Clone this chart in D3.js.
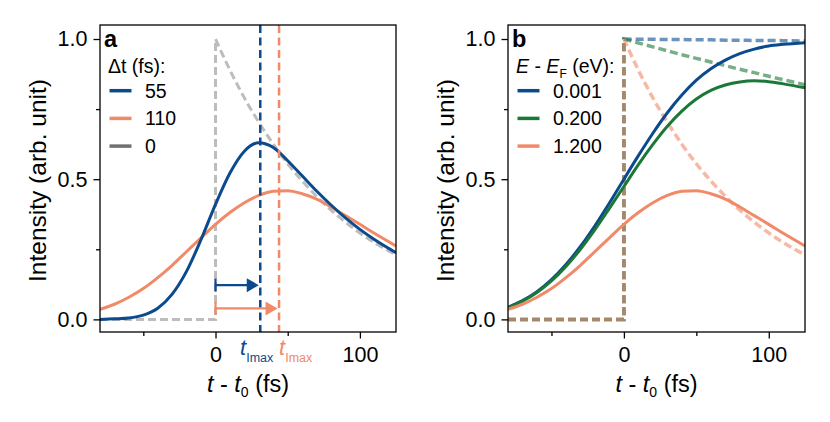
<!DOCTYPE html>
<html>
<head>
<meta charset="utf-8">
<script src="https://cdn.jsdelivr.net/npm/d3@7"></script>
<style>
body { margin: 0; background: #fff; }
text { font-family: "Liberation Sans", Arial, sans-serif; white-space: pre; }
</style>
</head>
<body>
<script>
// time grid (fs) shared by the broadened curves
const times = [-80, -70, -60, -50, -40, -30, -20, -10, 0, 10, 20, 30, 40, 50, 60, 70, 80, 90, 100, 110, 125]
// panel a, broadened intensity for two pulse widths
const blue55 = [0.000, 0.002, 0.005, 0.015, 0.040, 0.090, 0.172, 0.285, 0.410, 0.522, 0.600, 0.630, 0.613, 0.566, 0.512, 0.458, 0.408, 0.362, 0.321, 0.285, 0.238]
const orange110 = [0.036, 0.054, 0.079, 0.110, 0.149, 0.193, 0.242, 0.291, 0.339, 0.381, 0.416, 0.442, 0.457, 0.459, 0.448, 0.429, 0.401, 0.370, 0.339, 0.307, 0.262]
// unbroadened response: zero before t0, then decay
const stepTimes = [-80, 0]
const stepValues = [0, 0]
const decayTimes = [0, 10, 20, 30, 40, 50, 60, 70, 80, 90, 100, 110, 125]
const gray0 = [1.000, 0.889, 0.790, 0.703, 0.625, 0.555, 0.494, 0.439, 0.390, 0.347, 0.308, 0.274, 0.230]
// panel b, three energies
const blueB = [0.043, 0.067, 0.099, 0.142, 0.196, 0.260, 0.334, 0.415, 0.500, 0.584, 0.664, 0.737, 0.800, 0.853, 0.894, 0.925, 0.948, 0.964, 0.975, 0.981, 0.987]
const greenB = [0.042, 0.065, 0.096, 0.137, 0.189, 0.250, 0.320, 0.396, 0.474, 0.552, 0.624, 0.689, 0.743, 0.786, 0.817, 0.836, 0.847, 0.851, 0.848, 0.840, 0.826]
const orangeB = [0.036, 0.054, 0.079, 0.110, 0.149, 0.193, 0.242, 0.291, 0.339, 0.381, 0.416, 0.442, 0.457, 0.459, 0.448, 0.429, 0.401, 0.370, 0.339, 0.307, 0.262]
const blueDecay = [1.000, 0.999, 0.999, 0.998, 0.998, 0.997, 0.997, 0.996, 0.996, 0.995, 0.995, 0.994, 0.993]
const greenDecay = [1.000, 0.986, 0.972, 0.958, 0.944, 0.931, 0.918, 0.905, 0.892, 0.880, 0.867, 0.855, 0.837]
const orangeDecay = [1.000, 0.889, 0.790, 0.703, 0.625, 0.555, 0.494, 0.439, 0.390, 0.347, 0.308, 0.274, 0.230]
// t_Imax markers in panel a
const tmax = [31, 44]
const arrowLevels = [0.122, 0.039]
const tmaxLabelAt = [17, 44]

const legendA = ["55", "110", "0"]
const legendB = ["0.001", "0.200", "1.200"]
const xTicks = [0, 100]
const xMinor = [-50, 50]
const yTicks = [0, 0.5, 1]
const yMinor = [0.25, 0.75]

const blue = "#0c4a8e", orange = "#f08a68", green = "#1b7837", gray = "#bdbdbd"

const W = 830, H = 422
const plotTop = 25, plotBottom = 332
const svg = d3.select("body").append("svg").attr("width", W).attr("height", H)

const zip = (a, b) => a.map((v, i) => [v, b[i]])

function panel(left, right, letter) {
    const w = right - left, h = plotBottom - plotTop
    const g = svg.append("g").attr("transform", `translate(${left},${plotTop})`)
    const x = d3.scaleLinear().domain([-80, 125]).range([0, w])
    const y = d3.scaleLinear().domain([-0.045, 1.05]).range([h, 0])

    const id = "clip" + left
    g.append("clipPath").attr("id", id).append("rect").attr("width", w).attr("height", h)
    const plot = g.append("g").attr("clip-path", `url(#${id})`)

    const styleAxis = a => {
        a.select(".domain").remove()
        a.selectAll("line").attr("stroke-width", 1.3)
        a.selectAll("text").attr("font-size", 21.5).attr("font-family", '"Liberation Sans", Arial, sans-serif').attr("fill", "#000")
    }
    g.append("g").attr("transform", `translate(0,${h})`)
        .call(d3.axisBottom(x).tickValues(xTicks).tickSize(6.5).tickPadding(8).tickFormat(d3.format("d")))
        .call(styleAxis)
    g.append("g").attr("transform", `translate(0,${h})`)
        .call(d3.axisBottom(x).tickValues(xMinor).tickSize(4).tickFormat(""))
        .call(styleAxis)
    g.append("g")
        .call(d3.axisLeft(y).tickValues(yTicks).tickSize(6.5).tickPadding(6).tickFormat(d3.format(".1f")))
        .call(styleAxis)
    g.append("g")
        .call(d3.axisLeft(y).tickValues(yMinor).tickSize(4).tickFormat(""))
        .call(styleAxis)

    // y label
    svg.append("text")
        .attr("transform", `translate(${left - 63},${(plotTop + plotBottom) / 2 + 2}) rotate(-90)`)
        .attr("text-anchor", "middle").attr("dominant-baseline", "central")
        .attr("font-size", 24.5).text("Intensity (arb. unit)")

    // x label
    const xl = svg.append("text").attr("x", left + w / 2).attr("y", 392)
        .attr("text-anchor", "middle").attr("font-size", 23.5)
    xl.append("tspan").attr("font-style", "italic").text("t")
    xl.append("tspan").text(" - ")
    xl.append("tspan").attr("font-style", "italic").text("t")
    xl.append("tspan").attr("font-size", 14).attr("dy", 5).text("0")
    xl.append("tspan").attr("dy", -5).text(" (fs)")

    return { g, plot, x, y, w, h, letter }
}

function lines(p) {
    const smooth = d3.line().x(d => p.x(d[0])).y(d => p.y(d[1])).curve(d3.curveMonotoneX)
    const straight = d3.line().x(d => p.x(d[0])).y(d => p.y(d[1]))
    const withStep = vals => straight(zip(stepTimes, stepValues)) + smooth(zip(decayTimes, vals)).replace(/^M/, "L")
    return { smooth, withStep }
}

function frame(p) {
    p.g.append("rect").attr("width", p.w).attr("height", p.h)
        .attr("fill", "none").attr("stroke", "#000").attr("stroke-width", 1.3)
    p.g.append("text").attr("x", 4).attr("y", 22)
        .attr("font-size", 23.5).attr("font-weight", "bold").text(p.letter)
}

function legend(p, items, colors, title) {
    const lg = p.g.append("g")
    title(lg.append("text").attr("x", 8).attr("y", 48).attr("font-size", 19.5))
    items.forEach((name, i) => {
        const cy = 65.7 + i * 27.7
        lg.append("line").attr("x1", 9.5).attr("x2", 31.5).attr("y1", cy).attr("y2", cy)
            .attr("stroke", colors[i]).attr("stroke-width", 3.5)
        lg.append("text").attr("x", 45).attr("y", cy + 7).attr("font-size", 19.5).text(name)
    })
}

// ---------- panel a ----------
const pa = panel(100, 396, "a")
const la = lines(pa)
pa.plot.append("path").attr("d", la.withStep(gray0))
    .attr("fill", "none").attr("stroke", gray).attr("stroke-width", 3).attr("stroke-dasharray", "8,4")
pa.plot.append("path").attr("d", la.smooth(zip(times, orange110)))
    .attr("fill", "none").attr("stroke", orange).attr("stroke-width", 3)
pa.plot.append("path").attr("d", la.smooth(zip(times, blue55)))
    .attr("fill", "none").attr("stroke", blue).attr("stroke-width", 3)

const markColors = [blue, orange]
tmax.forEach((t, i) => {
    pa.plot.append("line").attr("x1", pa.x(t)).attr("x2", pa.x(t)).attr("y1", 0).attr("y2", pa.h)
        .attr("stroke", markColors[i]).attr("stroke-width", 2.5).attr("stroke-dasharray", "8,4.5")
    const yy = pa.y(arrowLevels[i]), x0 = pa.x(0), tip = pa.x(t) - 1.5
    pa.plot.append("line").attr("x1", x0).attr("x2", x0).attr("y1", yy - 6.5).attr("y2", yy + 6.5)
        .attr("stroke", markColors[i]).attr("stroke-width", 2.2)
    pa.plot.append("line").attr("x1", x0).attr("x2", tip - 8).attr("y1", yy).attr("y2", yy)
        .attr("stroke", markColors[i]).attr("stroke-width", 2.2)
    pa.plot.append("path").attr("d", `M${tip},${yy}L${tip - 12},${yy - 7}L${tip - 12},${yy + 7}Z`)
        .attr("fill", markColors[i])
    const lab = pa.g.append("text").attr("x", pa.x(tmaxLabelAt[i])).attr("y", pa.h + 23)
        .attr("font-size", 22).attr("fill", markColors[i])
    lab.append("tspan").attr("font-style", "italic").text("t")
    lab.append("tspan").attr("font-size", 12.5).attr("dy", 7).text("Imax")
})
frame(pa)
legend(pa, legendA, [blue, orange, "#707070"], t => t.text("Δt (fs):"))

// ---------- panel b ----------
const pb = panel(508, 805, "b")
const lb = lines(pb)
;[[blueDecay, blue], [greenDecay, green], [orangeDecay, orange]].forEach(([vals, c]) => {
    pb.plot.append("path").attr("d", lb.withStep(vals))
        .attr("fill", "none").attr("stroke", c).attr("stroke-opacity", 0.6)
        .attr("stroke-width", 3.5).attr("stroke-dasharray", "8,4")
})
;[[blueB, blue], [greenB, green], [orangeB, orange]].forEach(([vals, c]) => {
    pb.plot.append("path").attr("d", lb.smooth(zip(times, vals)))
        .attr("fill", "none").attr("stroke", c).attr("stroke-width", 3)
})
frame(pb)
legend(pb, legendB, [blue, green, orange], t => {
    t.append("tspan").attr("font-style", "italic").text("E")
    t.append("tspan").text(" - ")
    t.append("tspan").attr("font-style", "italic").text("E")
    t.append("tspan").attr("font-size", 12).attr("dy", 5).text("F")
    t.append("tspan").attr("dy", -5).text(" (eV):")
})
</script>
</body>
</html>
